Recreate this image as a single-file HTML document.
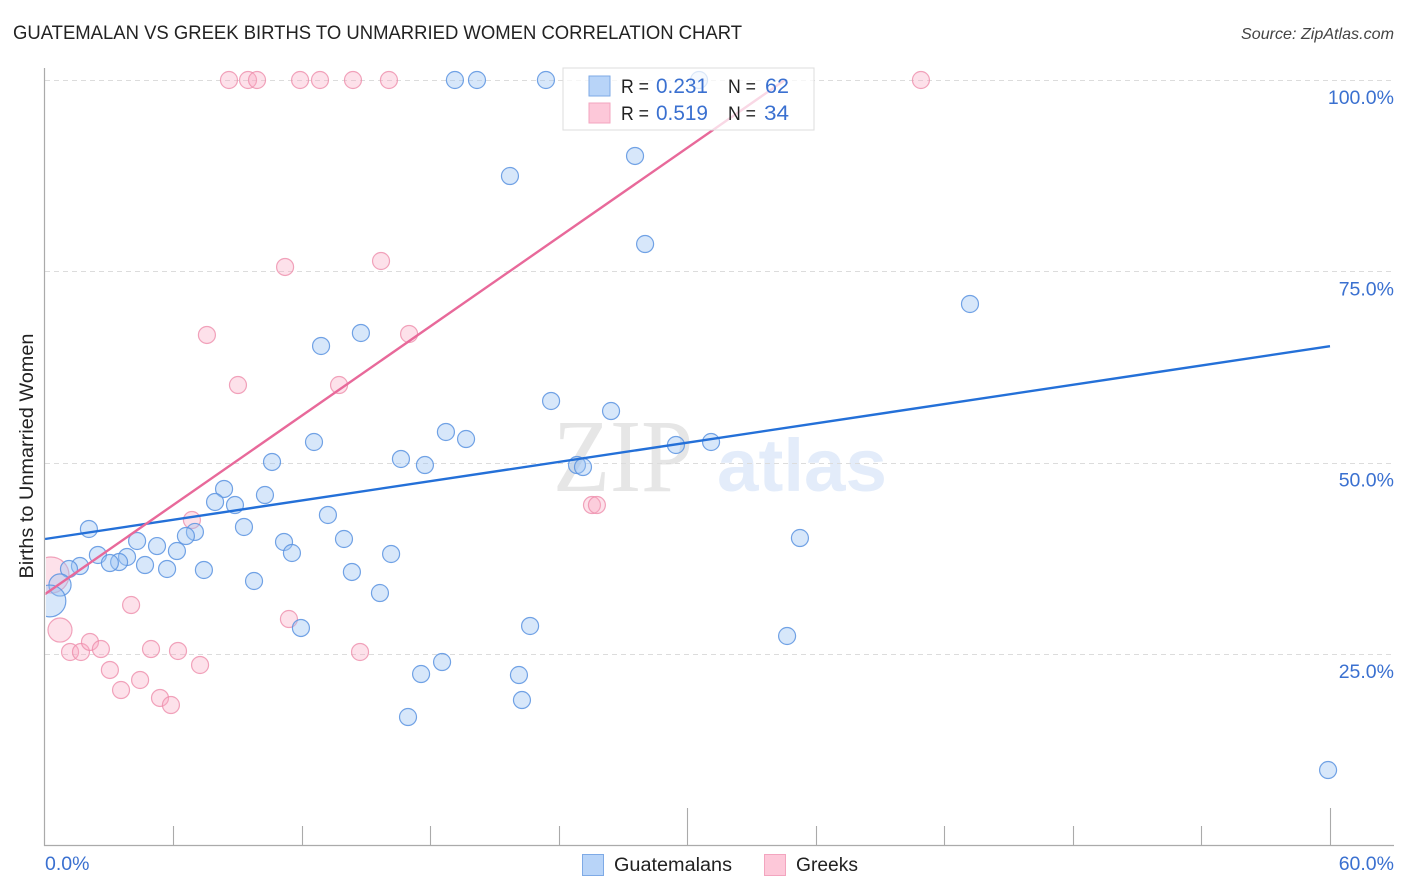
<!DOCTYPE html>
<html>
<head>
<meta charset="utf-8">
<title>Guatemalan vs Greek Births to Unmarried Women Correlation Chart</title>
<style>
html,body{margin:0;padding:0;background:#fff;}
svg{display:block;font-family:"Liberation Sans",sans-serif;}
</style>
</head>
<body>
<svg id="chart" xmlns="http://www.w3.org/2000/svg" width="1406" height="892" viewBox="0 0 1406 892">
  <defs>
    <clipPath id="plot-clip"><rect x="46" y="60" width="1348" height="785"/></clipPath>
  </defs>
  <text x="13" y="39" font-size="19" fill="#222" textLength="729" lengthAdjust="spacingAndGlyphs">GUATEMALAN VS GREEK BIRTHS TO UNMARRIED WOMEN CORRELATION CHART</text>
  <text x="1394" y="39" font-size="16" font-style="italic" fill="#444" text-anchor="end" textLength="153" lengthAdjust="spacingAndGlyphs">Source: ZipAtlas.com</text>

  <g>
    <text x="553" y="491" font-family="'Liberation Serif',serif" font-size="104" fill="#e6e6e6" textLength="140" lengthAdjust="spacingAndGlyphs">ZIP</text>
    <text x="717" y="491" font-size="74" font-weight="bold" fill="#e3ecfa" textLength="170" lengthAdjust="spacingAndGlyphs">atlas</text>
  </g>

  <g id="grid"></g>
  <g id="points" clip-path="url(#plot-clip)"></g>
  <g id="trends"></g>
  <rect x="20" y="540" width="25.5" height="100" fill="#fff"/>
  <g id="axes"></g>
  <g id="y-labels"></g>
  <g id="x-labels"></g>
  <text transform="translate(33,456) rotate(-90)" font-size="19" fill="#222" text-anchor="middle" textLength="245" lengthAdjust="spacingAndGlyphs">Births to Unmarried Women</text>

  <g>
    <rect x="563" y="68" width="251" height="62" fill="#fff" fill-opacity="0.74" stroke="#ddd" stroke-width="1"/>
    <rect x="589" y="76" width="21" height="20" fill="#b8d4f8" stroke="#7eaae6" stroke-width="1"/>
    <rect x="589" y="103" width="21" height="20" fill="#fdc8d9" stroke="#f3a5bf" stroke-width="1"/>
    <text x="621" y="93" font-size="19" fill="#222" textLength="28" lengthAdjust="spacingAndGlyphs">R =</text>
    <text x="656" y="93" font-size="21" fill="#3a70d0" textLength="52" lengthAdjust="spacingAndGlyphs">0.231</text>
    <text x="728" y="93" font-size="19" fill="#222" textLength="28" lengthAdjust="spacingAndGlyphs">N =</text>
    <text x="765" y="93" font-size="21" fill="#3a70d0" textLength="24" lengthAdjust="spacingAndGlyphs">62</text>
    <text x="621" y="120" font-size="19" fill="#222" textLength="28" lengthAdjust="spacingAndGlyphs">R =</text>
    <text x="656" y="120" font-size="21" fill="#3a70d0" textLength="52" lengthAdjust="spacingAndGlyphs">0.519</text>
    <text x="728" y="120" font-size="19" fill="#222" textLength="28" lengthAdjust="spacingAndGlyphs">N =</text>
    <text x="764" y="120" font-size="21" fill="#3a70d0" textLength="25" lengthAdjust="spacingAndGlyphs">34</text>
  </g>

  <g>
    <rect x="582.5" y="854.5" width="21" height="21" fill="#b8d4f8" stroke="#7eaae6" stroke-width="1"/>
    <text x="614" y="871" font-size="19" fill="#222" textLength="118" lengthAdjust="spacingAndGlyphs">Guatemalans</text>
    <rect x="764.5" y="854.5" width="21" height="21" fill="#fdc8d9" stroke="#f3a5bf" stroke-width="1"/>
    <text x="796" y="871" font-size="19" fill="#222" textLength="62" lengthAdjust="spacingAndGlyphs">Greeks</text>
  </g>
</svg>
<script>
const yTicks = [25, 50, 75, 100];
const yTickLabels = ["25.0%", "50.0%", "75.0%", "100.0%"];
const xTicks = [0, 6, 12, 18, 24, 30, 36, 42, 48, 54, 60];
const xMajorTicks = [30, 60];
const xTickLabels = ["0.0%", "60.0%"];

const guatemalanX = [19.14,20.17,23.39,30.54,27.55,21.71,28.02,43.19,12.89,14.75,23.63,26.43,18.72,19.66,12.56,16.62,17.74,10.60,24.84,25.12,29.46,31.10,10.27,8.36,7.94,8.87,13.21,9.29,2.05,7.00,6.58,4.30,5.23,6.16,2.47,3.83,3.46,3.03,1.63,1.12,4.67,5.70,7.42,13.96,11.16,11.53,16.16,14.33,9.76,15.64,0.70,0.23,11.95,22.65,35.25,34.65,18.54,17.56,22.13,22.27,16.95,59.91];
const guatemalanY = [100,100,100,100,90.07,87.45,78.56,70.72,65.23,66.93,58.04,56.73,53.99,53.07,52.68,50.46,49.67,50.07,49.67,49.41,52.29,52.68,45.75,46.54,44.84,44.44,43.14,41.57,41.31,40.92,40.39,39.74,39.08,38.43,37.91,37.65,36.99,36.86,36.47,36.08,36.60,36.08,35.95,40.00,39.61,38.17,38.04,35.69,34.51,32.94,33.99,31.90,28.37,28.63,40.13,27.32,23.92,22.35,22.22,18.95,16.73,9.80];
const guatemalanWeight = [1,1,1,1,1,1,1,1,1,1,1,1,1,1,1,1,1,1,1,1,1,1,1,1,1,1,1,1,1,1,1,1,1,1,1,1,1,1,1,1,1,1,1,1,1,1,1,1,1,1,1.7,3.5,1,1,1,1,1,1,1,1,1,1];

const greekX = [0.28,4.02,0.70,1.17,1.68,2.10,2.61,3.03,3.55,4.44,4.95,6.21,7.24,5.37,5.88,11.39,6.86,8.59,9.48,9.90,11.91,12.84,14.38,16.06,40.90,11.21,15.69,7.56,17.00,9.01,13.73,14.71,25.54,25.77];
const greekY = [35.29,31.37,28.10,25.23,25.23,26.54,25.62,22.88,20.26,21.57,25.62,25.36,23.53,19.22,18.30,29.54,42.48,100,100,100,100,100,100,100,100,75.56,76.34,66.67,66.80,60.13,60.13,25.23,44.44,44.44];
const greekWeight = [4.5,1,2,1,1,1,1,1,1,1,1,1,1,1,1,1,1,1,1,1,1,1,1,1,1,1,1,1,1,1,1,1,1,1];

const guatemalanTrendX = [0, 60];
const guatemalanTrendY = [40.0, 65.2];
const greekTrendX = [0, 34.55];
const greekTrendY = [32.8, 100];

const SVG_NS = "http://www.w3.org/2000/svg";
function xScale(v) { return 45 + v * (1330 - 45) / 60; }
function yScale(v) { return 845 - v * (845 - 80) / 100; }
function radius(w) { return 8.5 * Math.sqrt(w); }
function make(tag, attrs, parent) {
  const el = document.createElementNS(SVG_NS, tag);
  for (const k in attrs) el.setAttribute(k, attrs[k]);
  parent.appendChild(el);
  return el;
}

const gridG = document.getElementById("grid");
const axesG = document.getElementById("axes");
const yLabelG = document.getElementById("y-labels");
const xLabelG = document.getElementById("x-labels");
const pointsG = document.getElementById("points");
const trendsG = document.getElementById("trends");

yTicks.forEach(function (t, i) {
  const y = Math.round(yScale(t)) + 0.5;
  const line = make("line", {x1: 45, x2: 1394, y1: y, y2: y, stroke: "#dcdcdc", "stroke-width": 1, "stroke-dasharray": "5 4"}, gridG);
  
  
  const label = make("text", {x: 1394, y: yScale(t) + 24, "font-size": 19.5, fill: "#3a70d0", "text-anchor": "end"}, yLabelG);
  
  
  label.textContent = yTickLabels[i];
});

const yAxis = make("line", {x1: 44.5, x2: 44.5, y1: 68, y2: 846, stroke: "#aaa", "stroke-width": 1.2}, axesG);


const xAxis = make("line", {x1: 44, x2: 1394, y1: 845.5, y2: 845.5, stroke: "#aaa", "stroke-width": 1.2}, axesG);



xTicks.forEach(function (t) {
  if (t === 0) return;
  const major = xMajorTicks.indexOf(t) >= 0;
  const x = Math.floor(xScale(t)) + 0.5;
  const tick = make("line", {x1: x, x2: x, y1: major ? 808 : 826, y2: 845, stroke: "#aaa", "stroke-width": 1.1}, axesG);
  
  
});

const xLabelLeft = make("text", {x: 45, y: 870, "font-size": 19.5, fill: "#3a70d0"}, xLabelG);


xLabelLeft.textContent = xTickLabels[0];
const xLabelRight = make("text", {x: 1394, y: 870, "font-size": 19.5, fill: "#3a70d0", "text-anchor": "end"}, xLabelG);


xLabelRight.textContent = xTickLabels[1];

greekX.forEach(function (v, i) {
  const c = make("circle", {cx: xScale(v), cy: yScale(greekY[i]), r: radius(greekWeight[i]), fill: "#f8a8c2", "fill-opacity": 0.35, stroke: "#ee8dab", "stroke-opacity": 0.8, "stroke-width": 1.2}, pointsG);
  
  
});
guatemalanX.forEach(function (v, i) {
  const c = make("circle", {cx: xScale(v), cy: yScale(guatemalanY[i]), r: radius(guatemalanWeight[i]), fill: "#9cc4f2", "fill-opacity": 0.4, stroke: "#5b93e0", "stroke-opacity": 0.85, "stroke-width": 1.2}, pointsG);
  
  
});

const trendBlue = make("line", {x1: xScale(guatemalanTrendX[0]), y1: yScale(guatemalanTrendY[0]), x2: xScale(guatemalanTrendX[1]), y2: yScale(guatemalanTrendY[1]), stroke: "#2470d8", "stroke-width": 2.4}, trendsG);


const trendPink = make("line", {x1: xScale(greekTrendX[0]), y1: yScale(greekTrendY[0]), x2: xScale(greekTrendX[1]), y2: yScale(greekTrendY[1]), stroke: "#e8699a", "stroke-width": 2.4}, trendsG);


</script>
</body>
</html>
